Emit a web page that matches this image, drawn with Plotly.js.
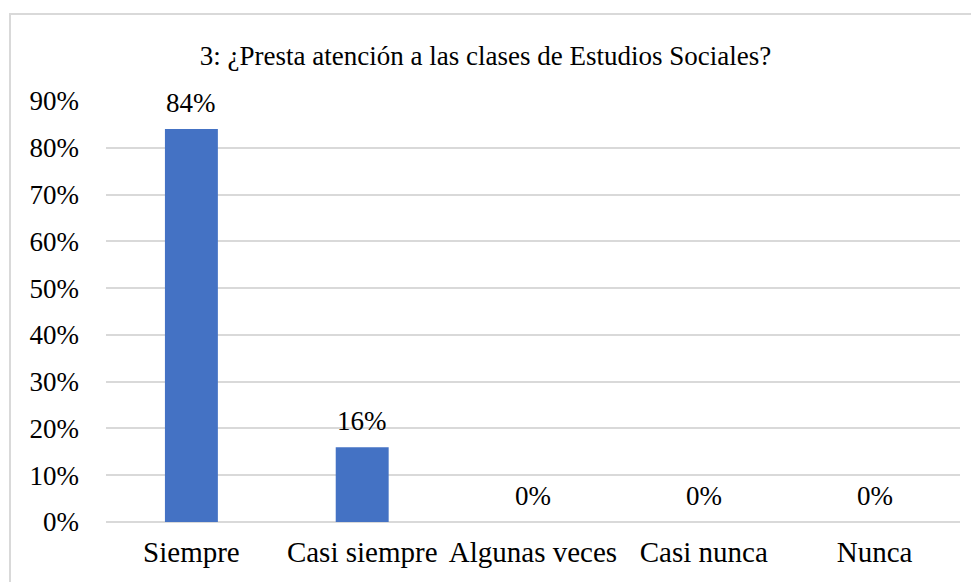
<!DOCTYPE html>
<html>
<head>
<meta charset="utf-8">
<script src="https://cdn.plot.ly/plotly-3.0.1.min.js"></script>
<style>
html,body{margin:0;padding:0;background:#fff;}
#chart{width:971px;height:582px;}
</style>
</head>
<body>
<div id="chart"></div>
<script>
var categories = ["Siempre", "Casi siempre", "Algunas veces", "Casi nunca", "Nunca"];
var values = [84, 16, 0, 0, 0];
var labels = ["84%", "16%", "0%", "0%", "0%"];
var titleText = "3: ¿Presta atención a las clases de Estudios Sociales?";

var serifFamily = "Times New Roman";

var annotations = categories.map(function (c, i) {
  return {
    x: c, y: values[i], xref: "x", yref: "y",
    text: labels[i], showarrow: false,
    yanchor: "bottom", yshift: 9,
    font: {family: serifFamily, size: 27, color: "#000"}
  };
});

var trace = {
  type: "bar",
  x: categories,
  y: values,
  marker: {color: "#4472C4"},
  hoverinfo: "none"
};

var layout = {
  width: 971, height: 582,
  margin: {l: 106, r: 11, t: 101, b: 60},
  paper_bgcolor: "#fff", plot_bgcolor: "#fff",
  showlegend: false,
  bargap: 0.69,
  font: {family: serifFamily, size: 27, color: "#000"},
  title: {text: titleText, font: {family: serifFamily, size: 27, color: "#000"}, x: 0.5, xanchor: "center", y: 0.905, yanchor: "middle"},
  xaxis: {
    type: "category",
    tickfont: {family: serifFamily, size: 29, color: "#000"},
    showgrid: false, zeroline: false, showline: false,
    ticks: "", ticklabelstandoff: 10
  },
  yaxis: {
    range: [0, 90], dtick: 10, tick0: 0,
    ticksuffix: "%",
    tickfont: {family: serifFamily, size: 27, color: "#000"},
    showgrid: true, gridcolor: "#D9D9D9", gridwidth: 1.5,
    zeroline: true, zerolinecolor: "#D9D9D9", zerolinewidth: 1.5,
    showline: false, ticks: "", ticklabelstandoff: 26
  },
  annotations: annotations,
  shapes: [{
    type: "rect", xref: "paper", yref: "paper",
    x0: -0.1124, x1: 1.2, y0: -0.4, y1: 1.2067,
    line: {color: "#D9D9D9", width: 2}, fillcolor: "rgba(0,0,0,0)", layer: "below"
  }]
};

Plotly.newPlot("chart", [trace], layout, {displayModeBar: false});
</script>
</body>
</html>
